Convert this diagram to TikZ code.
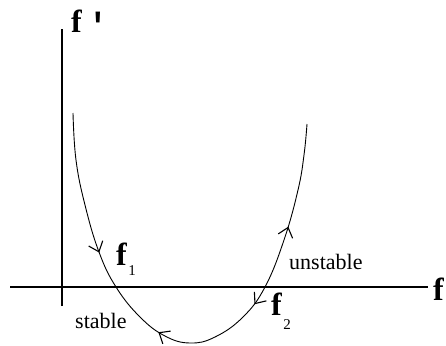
\documentclass[tikz,border=0pt]{standalone}
\usepackage{fontspec}
\setmainfont{Liberation Serif}
\newfontfamily\tickfont{Liberation Sans}
\usetikzlibrary{arrows.meta,decorations.markings}
\tikzset{
  axis/.style={line width=1.6pt},
  curve/.style={line width=0.9pt},
  barb/.tip={Straight Barb[length=9pt,width=15pt,line width=1.1pt]},
  lbl/.style={inner sep=0pt, anchor=base west},
  bigf/.style={lbl, font=\fontsize{32}{32}\selectfont\bfseries},
  sub/.style={lbl, font=\fontsize{15}{15}\selectfont},
  word/.style={lbl, font=\fontsize{22}{22}\selectfont}
}
\begin{document}
\begin{tikzpicture}[x=1pt,y=-1pt]
\useasboundingbox (0,0) rectangle (446,345);
% axes
\coordinate (yb) at (62,306);
\coordinate (yt) at (62,29);
\coordinate (xl) at (10,287);
\coordinate (xr) at (428,287);
\draw[axis] (yb) -- (yt);
\draw[axis] (xl) -- (xr);
% curve
\draw[curve, postaction={decorate}, decoration={markings,
    mark=at position 0.262 with {\arrow{barb}},
    mark=at position 0.447 with {\arrowreversed{barb}},
    mark=at position 0.652 with {\arrowreversed{barb}},
    mark=at position 0.808 with {\arrow{barb}}}]
  plot[smooth, tension=0.7] coordinates {(73,113) (76,160) (85,205) (99,252) (116,287) (140,317) (165,336) (190,343) (215,337) (243,317) (265,287) (284,240) (298,190) (304,155) (307,124)};
% labels
\node[bigf] (fp) at (71,33) {f};
\node[lbl, font=\tickfont\fontsize{50}{50}\selectfont] (prime) at (93,46) {'};
\node[bigf] (fx) at (433,300) {f};
\node[bigf] (f1) at (116,265) {f};
\node[sub] (s1) at (f1.base east) [xshift=1pt, yshift=-10pt] {1};
\node[bigf] (f2) at (271,315) {f};
\node[sub] (s2) at (f2.base east) [xshift=1pt, yshift=-14pt] {2};
\node[word] (un) at (289,269) {unstable};
\node[word] (st) at (75,328) {stable};
\end{tikzpicture}
\end{document}
